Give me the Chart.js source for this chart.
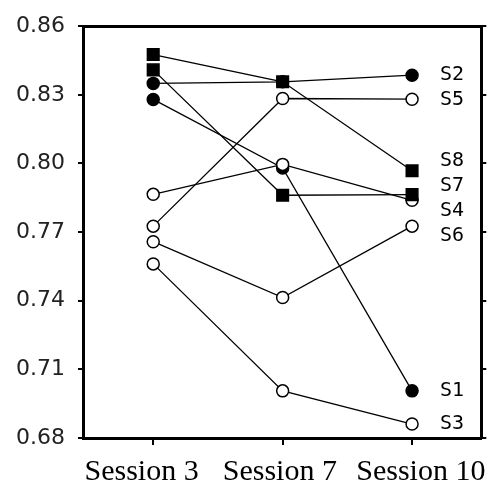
<!DOCTYPE html>
<html><head><meta charset="utf-8">
<script src="https://cdn.jsdelivr.net/npm/chart.js@4.4.1/dist/chart.umd.min.js"></script>
<style>html,body{margin:0;padding:0;background:#fff}#wrap{width:491px;height:491px}</style>
</head><body><div id="wrap"><canvas id="c" width="491" height="491"></canvas></div>
<script>
const categories = ['Session 3', 'Session 7', 'Session 10'];
const yTicks = [0.68, 0.71, 0.74, 0.77, 0.80, 0.83, 0.86];

const S1 = [0.828, 0.798, 0.7006];
const S2 = [0.835, 0.8357, 0.8386];
const S3 = [0.7561, 0.7006, 0.6861];
const S4 = [0.7865, 0.7996, 0.7839];
const S5 = [0.7726, 0.8284, 0.8281];
const S6 = [0.7658, 0.7414, 0.7726];
const S7 = [0.8409, 0.7861, 0.7864];
const S8 = [0.8476, 0.8357, 0.7968];

const seriesNames = ['S1', 'S2', 'S3', 'S4', 'S5', 'S6', 'S7', 'S8'];
const seriesValues = [S1, S2, S3, S4, S5, S6, S7, S8];
const filledSeries = ['S1', 'S2', 'S7', 'S8'];
const squareSeries = ['S7', 'S8'];
// drawing order, topmost first (Chart.js draws dataset 0 on top)
const stackOrder = ['S7', 'S8', 'S2', 'S4', 'S5', 'S1', 'S3', 'S6'];

const X_MIN = -0.535, X_MAX = 2.535;
// small horizontal nudges of the category captions (in category units)
const captionNudge = [-0.09, -0.022, 0.068];

const datasets = stackOrder.map(name => {
  const vals = seriesValues[seriesNames.indexOf(name)];
  const filled = filledSeries.includes(name);
  const square = squareSeries.includes(name);
  return {
    label: name,
    data: vals.map((v, i) => ({ x: i, y: v })),
    borderColor: '#000',
    borderWidth: 1.3,
    pointStyle: square ? 'rect' : 'circle',
    pointRadius: square ? 8.2 : 6,
    pointBorderWidth: 1.5,
    pointBorderColor: '#000',
    pointBackgroundColor: filled ? '#000' : '#fff',
    fill: false,
    tension: 0,
    clip: false
  };
});

const endLabels = {
  id: 'endLabels',
  afterDatasetsDraw(chart) {
    const ctx = chart.ctx;
    const xs = chart.scales.x, ys = chart.scales.y;
    const lastIdx = categories.length - 1;
    const items = chart.data.datasets.map(ds => ({
      name: ds.label,
      target: ys.getPixelForValue(ds.data[lastIdx].y)
    })).sort((a, b) => a.target - b.target);
    const gap = 25;
    let groups = items.map(it => ({ members: [it] }));
    const place = g => {
      const mean = g.members.reduce((s, m) => s + m.target, 0) / g.members.length;
      g.start = mean - (g.members.length - 1) * gap / 2;
      g.end = g.start + (g.members.length - 1) * gap;
    };
    groups.forEach(place);
    let merged = true;
    while (merged) {
      merged = false;
      for (let i = 1; i < groups.length; i++) {
        if (groups[i].start - groups[i - 1].end < gap) {
          groups[i - 1].members = groups[i - 1].members.concat(groups[i].members);
          groups.splice(i, 1);
          place(groups[i - 1]);
          merged = true;
          break;
        }
      }
    }
    const x = xs.getPixelForValue(lastIdx) + 28;
    ctx.save();
    ctx.fillStyle = '#000';
    ctx.font = '20px "DejaVu Sans Mono"';
    ctx.textAlign = 'left';
    ctx.textBaseline = 'middle';
    groups.forEach(g => g.members.forEach((m, j) => {
      ctx.fillText(m.name, x, g.start + j * gap);
    }));
    ctx.restore();
  }
};

const tickGrid = { drawOnChartArea: false, drawTicks: true, color: '#000', lineWidth: 2 };

new Chart(document.getElementById('c'), {
  type: 'line',
  data: { datasets },
  plugins: [endLabels],
  options: {
    responsive: false,
    animation: false,
    layout: { padding: { left: 3, right: 3, top: 8, bottom: -8 } },
    plugins: { legend: { display: false }, tooltip: { enabled: false } },
    scales: {
      x: {
        type: 'linear', position: 'bottom', min: X_MIN, max: X_MAX, weight: 0,
        afterBuildTicks: s => { s.ticks = categories.map((_, i) => ({ value: i })); },
        ticks: { display: false },
        grid: Object.assign({ tickLength: 7 }, tickGrid),
        border: { color: '#000', width: 3 }
      },
      xCaptions: {
        type: 'linear', position: 'bottom', min: X_MIN, max: X_MAX, weight: 1,
        afterBuildTicks: s => { s.ticks = categories.map((_, i) => ({ value: i + captionNudge[i] })); },
        afterFit: s => { s.paddingLeft = 0; s.paddingRight = 0; },
        ticks: {
          callback: (v, i) => categories[i], color: '#000', padding: 12,
          font: { family: '"Liberation Serif"', size: 30, lineHeight: 1 }, maxRotation: 0, autoSkip: false
        },
        grid: { display: false, drawTicks: false },
        border: { display: false }
      },
      xTop: {
        type: 'linear', position: 'top', min: X_MIN, max: X_MAX,
        ticks: { display: false },
        grid: { display: false, drawTicks: false },
        border: { color: '#000', width: 3 }
      },
      y: {
        type: 'linear', position: 'left', min: 0.68, max: 0.86,
        afterBuildTicks: s => { s.ticks = yTicks.map(v => ({ value: v })); },
        ticks: {
          callback: v => v.toFixed(2), color: '#222', padding: 13,
          font: { family: '"DejaVu Sans"', size: 22 }
        },
        grid: Object.assign({ tickLength: 6 }, tickGrid),
        border: { color: '#000', width: 3 }
      },
      yRight: {
        type: 'linear', position: 'right', min: 0.68, max: 0.86,
        afterBuildTicks: s => { s.ticks = yTicks.map(v => ({ value: v })); },
        ticks: { display: false },
        grid: Object.assign({ tickLength: 5 }, tickGrid),
        border: { color: '#000', width: 3 }
      }
    }
  }
});
</script></body></html>
